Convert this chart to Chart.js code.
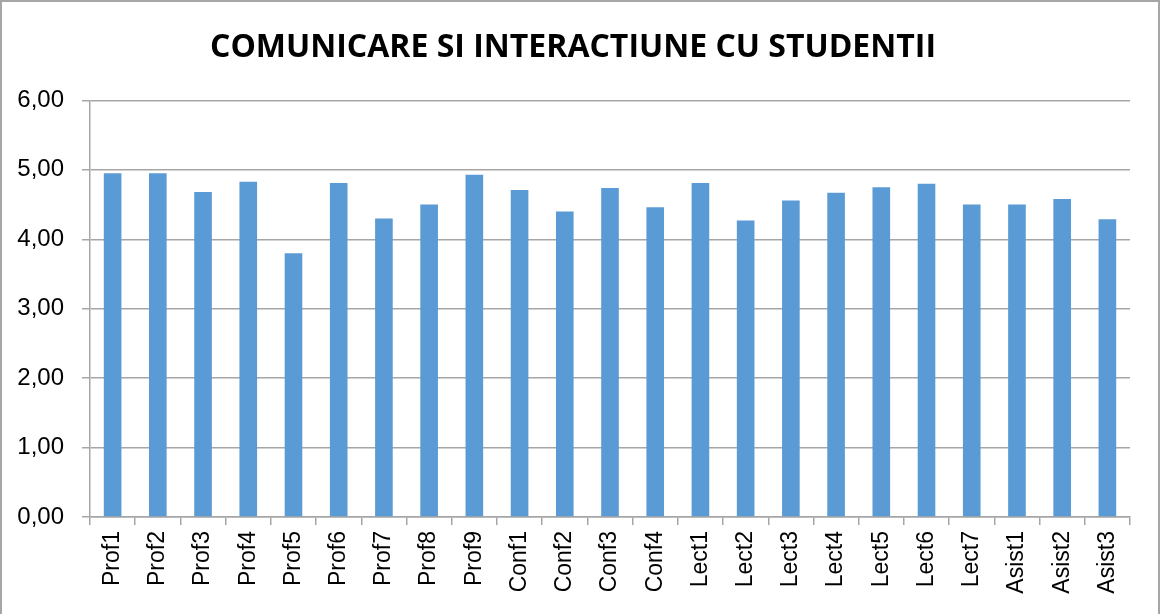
<!DOCTYPE html>
<html>
<head>
<meta charset="utf-8">
<script src="https://cdn.jsdelivr.net/npm/chart.js@4.4.1/dist/chart.umd.min.js"></script>
<style>
  body { margin: 0; background: #fff; }
  #wrap { position: relative; width: 1160px; height: 614px; }
  #frame { position: absolute; left: 0; top: 0; width: 1160px; height: 616px; box-sizing: border-box;
           border: 2px solid #a6a6a6; pointer-events: none; }
</style>
</head>
<body>
<div id="wrap">
  <canvas id="myChart" width="1160" height="614"></canvas>
  <div id="frame"></div>
</div>
<script>
const categories = ["Prof1", "Prof2", "Prof3", "Prof4", "Prof5", "Prof6", "Prof7", "Prof8", "Prof9",
  "Conf1", "Conf2", "Conf3", "Conf4",
  "Lect1", "Lect2", "Lect3", "Lect4", "Lect5", "Lect6", "Lect7",
  "Asist1", "Asist2", "Asist3"];
const scores = [4.95, 4.95, 4.68, 4.83, 3.80, 4.81, 4.30, 4.50, 4.93,
  4.71, 4.40, 4.74, 4.46,
  4.81, 4.27, 4.56, 4.67, 4.75, 4.80, 4.50,
  4.50, 4.58, 4.29];
const yTicks = [0, 1, 2, 3, 4, 5, 6];
const chartTitle = "COMUNICARE SI INTERACTIUNE CU STUDENTII";

const labelFont = "'Liberation Sans', 'DejaVu Sans', sans-serif";
const gridColor = "#a6a6a6";

new Chart("myChart", {
  type: "bar",
  data: {
    labels: categories,
    datasets: [{
      data: scores,
      backgroundColor: "#5b9bd5",
      categoryPercentage: 1,
      barPercentage: 0.39
    }]
  },
  options: {
    responsive: false,
    animation: false,
    // y labels get clipped to the scale box, so left can't go higher than ~16
    layout: { padding: { left: 16, right: 30, top: 0, bottom: 0 } },
    plugins: {
      legend: { display: false },
      tooltip: { enabled: false },
      title: {
        display: true,
        text: chartTitle,
        color: "#000",
        font: { family: "'Open Sans', sans-serif", size: 32, weight: "bold" },
        padding: { top: 29, bottom: 33 }
      }
    },
    scales: {
      x: {
        grid: { drawOnChartArea: false, drawTicks: true, tickLength: 8, color: gridColor, lineWidth: 1.5, offset: true },
        border: { color: gridColor, width: 1.5 },
        ticks: {
          color: "#000",
          font: { family: labelFont, size: 23 },
          minRotation: 90, maxRotation: 90,
          padding: 6,
          autoSkip: false
        },
        afterFit: (s) => { s.height = 97; }
      },
      y: {
        min: 0, max: 6,
        afterBuildTicks: (s) => { s.ticks = yTicks.map(v => ({ value: v })); },
        grid: { color: gridColor, lineWidth: 1.5, tickLength: 8 },
        border: { color: gridColor, width: 1.5 },
        ticks: {
          color: "#000",
          font: { family: labelFont, size: 24 },
          padding: 18,
          callback: (v) => Number(v).toFixed(2).replace(".", ",")
        },
        afterFit: (s) => { s.width = 74; }
      }
    }
  }
});
</script>
</body>
</html>
